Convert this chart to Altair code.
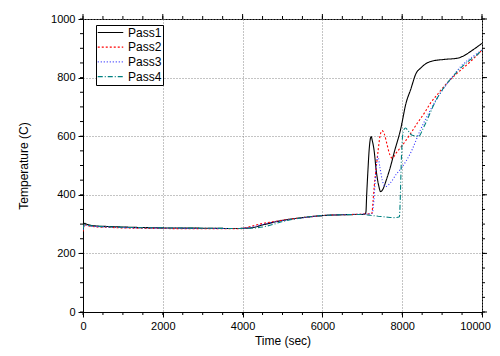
import altair as alt
import pandas as pd

names = ["Pass1", "Pass2", "Pass3", "Pass4"]
colors = ["#000000", "#ff0000", "#3333ff", "#008080"]
dashes = [[1, 0], [2, 2], [1, 2], [5, 2, 1, 2]]

t1 = [0, 40, 80, 150, 300, 600, 1000, 2000, 3000, 3800, 4200, 4500, 4800, 5100, 5500, 6000, 6500, 7000,
      7060, 7090, 7110, 7140, 7170, 7200, 7223, 7250, 7290, 7357, 7415, 7457, 7520, 7600, 7708, 7800, 7958,
      8100, 8209, 8350, 8459, 8600, 8710, 9044, 9378, 9550, 9712, 9850, 10000]
T1 = [285, 303, 300, 297, 294, 292, 290, 287, 286, 285, 287, 297, 307, 315, 322, 329, 332, 333,
      334, 340, 400, 480, 550, 590, 599, 585, 557, 474, 429, 411, 420, 450, 497, 545, 622,
      715, 758, 815, 832, 848, 855, 862, 866, 875, 889, 902, 917]

t2 = [0, 40, 80, 150, 300, 600, 1000, 2000, 3000, 3900, 4200, 4500, 4800, 5100, 5500, 6000, 6500, 7000,
      7200, 7240, 7270, 7300, 7350, 7400, 7450, 7499, 7550, 7620, 7690, 7750, 7850, 8042, 8200, 8376,
      8550, 8710, 8880, 9044, 9200, 9378, 9550, 9712, 9850, 10000]
T2 = [275, 300, 297, 294, 291, 289, 287, 285, 284, 284, 292, 302, 309, 315, 322, 329, 332, 334,
      335, 337, 380, 430, 495, 555, 605, 619, 608, 572, 537, 525, 543, 576, 607, 644,
      678, 713, 742, 769, 792, 815, 835, 855, 873, 894]

t3 = [0, 40, 80, 150, 300, 600, 1000, 2000, 3000, 3900, 4200, 4500, 4800, 5100, 5500, 6000, 6500, 7000,
      7200, 7250, 7290, 7340, 7390, 7440, 7500, 7583, 7700, 7850, 8000, 8200, 8459, 8650, 8877, 9100,
      9300, 9461, 9650, 9850, 10000]
T3 = [280, 298, 296, 294, 292, 290, 288, 286, 285, 285, 289, 299, 307, 314, 321, 329, 332, 334,
      335, 337, 380, 480, 531, 495, 450, 428, 440, 470, 495, 540, 622, 675, 730, 775,
      810, 837, 860, 880, 895]

t4 = [0, 40, 80, 150, 300, 600, 1000, 2000, 3000, 3900, 4200, 4500, 4770, 4980, 5200, 5500, 6000, 6500,
      7000, 7200, 7400, 7600, 7800, 7930, 7950, 7970, 7990, 8010, 8042, 8083, 8150, 8250, 8418, 8520,
      8626, 8750, 8877, 9000, 9127, 9300, 9461, 9650, 9850, 10000]
T4 = [282, 302, 299, 296, 293, 291, 289, 287, 286, 285, 286, 290, 299, 308, 315, 322, 329, 332,
      333, 330, 327, 324, 322, 325, 380, 480, 560, 600, 622, 628, 618, 603, 600, 625,
      656, 695, 730, 757, 781, 808, 832, 855, 875, 893]

x_major = [0, 2000, 4000, 6000, 8000, 10000]
y_major = [0, 200, 400, 600, 800, 1000]
x_minor = list(range(0, 10001, 500))
y_minor = list(range(0, 1001, 50))

W, H = 399, 293

rows = []
for name, ts, vs in zip(names, [t1, t2, t3, t4], [T1, T2, T3, T4]):
    for t, v in zip(ts, vs):
        rows.append({"series": name, "t": t, "T": v})
df = pd.DataFrame(rows)

xs = alt.Scale(domain=[0, 10000], nice=False)
ys = alt.Scale(domain=[0, 1000], nice=False)

x_axis = alt.Axis(title="Time (sec)", values=x_major, format="d", labelFlush=False,
                  labelOffset={"condition": {"test": "datum.value == 10000", "value": -7}, "value": 0},
                  tickSize=5, labelPadding=3, titlePadding=4,
                  grid=True, gridDash=[1, 2], gridColor="#888888")
y_axis = alt.Axis(title="Temperature (C)", values=y_major, format="d", labelFlush=False,
                  tickSize=5, labelPadding=3, titlePadding=20,
                  grid=True, gridDash=[1, 2], gridColor="#888888")

leg = dict(title=None, orient="none", legendX=13, legendY=6,
           symbolType="stroke", symbolSize=650, symbolStrokeWidth=1.2,
           labelFontSize=12, labelFont="Liberation Sans", labelColor="black",
           strokeColor="black", fillColor="white", padding=1,
           clipHeight=13, rowPadding=1.7, labelOffset=4)

lines = alt.Chart(df).mark_line(interpolate="monotone", strokeWidth=1.1, clip=True).encode(
    x=alt.X("t:Q", scale=xs, axis=x_axis),
    y=alt.Y("T:Q", scale=ys, axis=y_axis),
    color=alt.Color("series:N", scale=alt.Scale(domain=names, range=colors), legend=alt.Legend(**leg)),
    strokeDash=alt.StrokeDash("series:N", scale=alt.Scale(domain=names, range=dashes), legend=alt.Legend(**leg)),
)

dfx = pd.DataFrame({"t": x_minor})
dfy = pd.DataFrame({"T": y_minor})
dfxm = pd.DataFrame({"t": x_major})
dfym = pd.DataFrame({"T": y_major})


def xticks(d, a, b):
    return alt.Chart(d).mark_rule(color="black", strokeWidth=1).encode(
        x=alt.X("t:Q", scale=xs, axis=x_axis), y=alt.value(a), y2=alt.value(b))


def yticks(d, a, b):
    return alt.Chart(d).mark_rule(color="black", strokeWidth=1).encode(
        y=alt.Y("T:Q", scale=ys, axis=y_axis), x=alt.value(a), x2=alt.value(b))


ticks = [
    xticks(dfx, H, H + 3), xticks(dfx, 0, -3), xticks(dfxm, 0, -5),
    yticks(dfy, 0, -3), yticks(dfy, W, W + 3), yticks(dfym, W, W + 5),
]

chart = alt.layer(lines, *ticks).properties(
    width=W, height=H,
    autosize=alt.AutoSizeParams(type="none"),
    padding={"left": 75, "top": 11, "right": 9, "bottom": 36},
).configure_view(stroke="black", strokeWidth=1).configure_axis(
    labelFont="Liberation Sans", labelFontSize=11, labelColor="black",
    titleFont="Liberation Sans", titleFontSize=12, titleFontWeight="normal", titleColor="black",
    domainColor="black", tickColor="black",
)

chart.save("out.html", embed_options={"renderer": "svg", "actions": False})
